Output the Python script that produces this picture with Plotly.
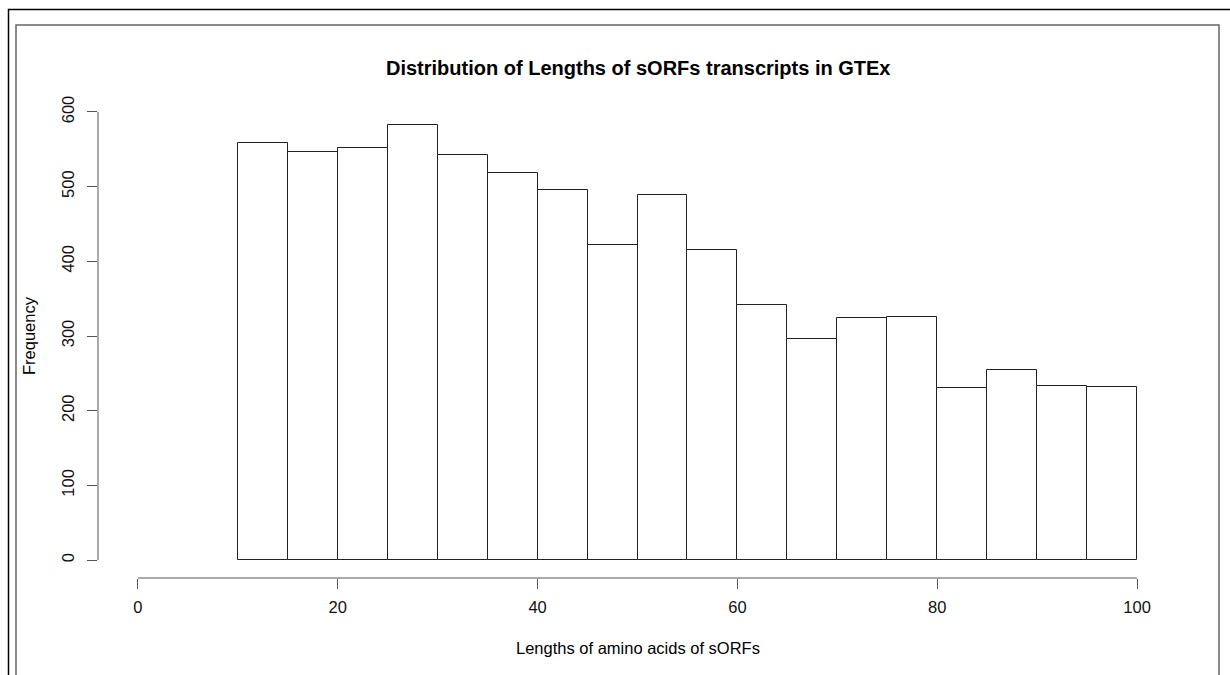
import plotly.graph_objects as go

# Data
bin_starts = [10, 15, 20, 25, 30, 35, 40, 45, 50, 55, 60, 65, 70, 75, 80, 85, 90, 95]
bin_width = 5
counts = [559, 546, 552, 582, 543, 518, 496, 422, 489, 415, 342, 296, 324, 325, 231, 255, 233, 232]
x_ticks = [0, 20, 40, 60, 80, 100]
y_ticks = [0, 100, 200, 300, 400, 500, 600]

title = "Distribution of Lengths of sORFs transcripts in GTEx"
x_label = "Lengths of amino acids of sORFs"
y_label = "Frequency"

W, H = 1230, 675
ML, MR, MT, MB = 98, 53, 94, 97
PW = W - ML - MR
PH = H - MT - MB

def px(x):
    return (x - ML) / PW

def py(y):
    return (H - MB - y) / PH

FONT = "Liberation Sans, Arial, Helvetica, sans-serif"

fig = go.Figure()
fig.add_trace(go.Bar(
    x=[s + bin_width / 2 for s in bin_starts],
    y=counts,
    width=[bin_width] * len(counts),
    marker=dict(color="white", line=dict(color="#222222", width=1)),
    hoverinfo="x+y",
))

shapes = [
    # axis lines spanning tick range only (R style)
    dict(type="line", xref="paper", yref="y", x0=0, x1=0, y0=y_ticks[0], y1=y_ticks[-1],
         line=dict(color="#555555", width=1)),
    dict(type="line", xref="x", yref="paper", x0=x_ticks[0], x1=x_ticks[-1], y0=0, y1=0,
         line=dict(color="#555555", width=1)),
    # outer frame
    dict(type="rect", xref="paper", yref="paper", x0=px(8.5), x1=px(1260), y0=py(720), y1=py(9.5),
         line=dict(color="#000000", width=1.5), fillcolor="rgba(0,0,0,0)", layer="below"),
    # inner frame
    dict(type="rect", xref="paper", yref="paper", x0=px(16), x1=px(1219), y0=py(720), y1=py(25),
         line=dict(color="#666666", width=1.5), fillcolor="rgba(0,0,0,0)", layer="below"),
]

annotations = [
    dict(text="<b>" + title + "</b>", xref="paper", yref="paper", x=0.5, y=py(68),
         showarrow=False, font=dict(size=20, color="black", family=FONT), xanchor="center", yanchor="middle"),
    dict(text=x_label, xref="paper", yref="paper", x=0.5, y=py(648),
         showarrow=False, font=dict(size=16.5, color="black", family=FONT), xanchor="center", yanchor="middle"),
    dict(text=y_label, xref="paper", yref="paper", x=px(29), y=0.5, textangle=-90,
         showarrow=False, font=dict(size=16.5, color="black", family=FONT), xanchor="center", yanchor="middle"),
]

fig.update_layout(
    width=W, height=H,
    margin=dict(l=ML, r=MR, t=MT, b=MB, pad=0),
    paper_bgcolor="white", plot_bgcolor="white",
    showlegend=False,
    bargap=0,
    shapes=shapes,
    annotations=annotations,
    font=dict(family=FONT, size=16, color="black"),
    xaxis=dict(range=[-4, 104], tickvals=x_ticks, ticktext=[str(v) for v in x_ticks],
               ticks="outside", ticklen=10, tickcolor="#555555", tickwidth=1,
               showline=False, showgrid=False, zeroline=False, ticklabelstandoff=4,
               tickfont=dict(size=16.5, family=FONT, color="#111111")),
    yaxis=dict(range=[-24, 624], tickvals=y_ticks, ticktext=[str(v) for v in y_ticks],
               ticks="outside", ticklen=10, tickcolor="#555555", tickwidth=1,
               showline=False, showgrid=False, zeroline=False, tickangle=-90, ticklabelstandoff=6,
               tickfont=dict(size=16.5, family=FONT, color="#111111")),
)

fig.write_html("out.html")
